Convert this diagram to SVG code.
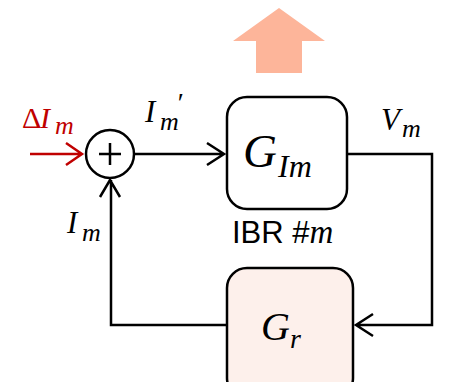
<svg xmlns="http://www.w3.org/2000/svg" width="462" height="382" viewBox="0 0 462 382">
<defs>
<style>
.ln{fill:none;stroke:#000;stroke-width:2.5;stroke-linejoin:miter}
.red{fill:none;stroke:#c00000;stroke-width:2.5}
.box{stroke:#000;stroke-width:2.5}
.m{font-family:"Liberation Serif","DejaVu Serif",serif;font-style:italic;fill:#000}
.s{font-family:"Liberation Sans",Arial,sans-serif;fill:#000}
</style>
</defs>
<rect width="462" height="382" fill="#fff"/>
<g id="up-arrow">
<polygon points="279,8 325,41 302,41 302,73 256,73 256,41 233,41" fill="#fdb59a"/>
</g>
<g id="sum">
<circle cx="110" cy="154" r="24" fill="#fff" class="box"/>
<path d="M99,154 H121 M110,143 V165" class="ln" stroke-width="2"/>
</g>
<g id="G_Im">
<rect x="227" y="97" width="120" height="112" rx="20" fill="#fff" class="box"/>
<text class="m" x="243" y="167" font-size="47">G</text>
<text class="m" x="278" y="177" font-size="32">Im</text>
<text class="s" x="232" y="243" font-size="31">IBR #<tspan class="m" font-size="33">m</tspan></text>
</g>
<g id="G_r">
<rect x="227" y="268" width="126" height="130" rx="20" fill="#fdf0eb" class="box"/>
<text class="m" x="261" y="340" font-size="40">G</text>
<text class="m" x="290" y="348" font-size="28">r</text>
</g>
<g id="connectors">
<path d="M30,154 H82 M66,143 L82,154 L66,165" class="red"/>
<path d="M134,154 H224 M207,143 L224,154 L207,165" class="ln"/>
<path d="M347,154 H432 V325 H356 M373,314 L356,325 L373,336" class="ln"/>
<path d="M227,325 H111 V180 M100,197 L110,180 L120,197" class="ln"/>
</g>
<g id="labels">
<text x="22" y="128" font-size="30" fill="#c00000" font-family="Liberation Serif,serif">Δ<tspan x="40" font-style="italic">I</tspan><tspan x="55" y="134" font-style="italic" font-size="26">m</tspan></text>
<text class="m" x="145" y="122" font-size="31">I</text>
<text class="m" x="176" y="112" font-size="28" font-style="normal">′</text>
<text class="m" x="160" y="130" font-size="26">m</text>
<text class="m" x="381" y="130" font-size="31">V<tspan x="402" y="137" font-size="26">m</tspan></text>
<text class="m" x="67" y="233" font-size="31">I<tspan x="82" y="241" font-size="26">m</tspan></text>
</g>
</svg>
